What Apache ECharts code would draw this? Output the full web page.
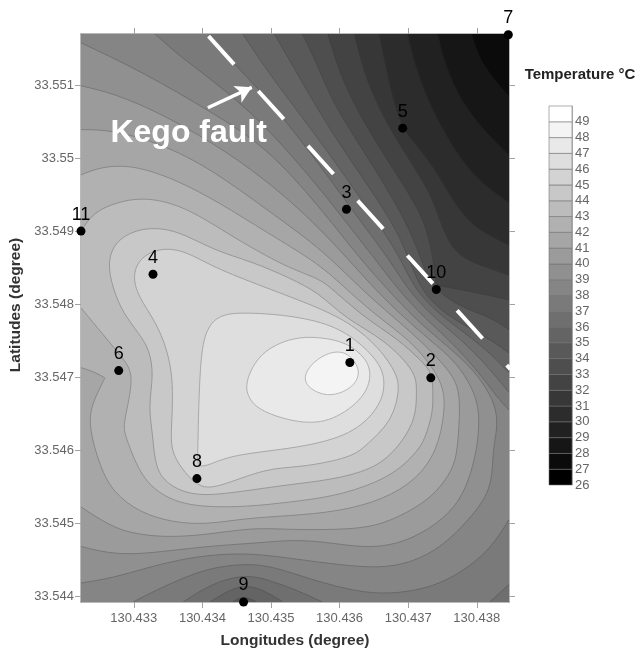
<!DOCTYPE html>
<html>
<head>
<meta charset="utf-8">
<style>html,body{margin:0;padding:0;background:#fff}#c{width:637px;height:653px}</style>
<script src="https://cdn.jsdelivr.net/npm/echarts@6/dist/echarts.min.js"></script>
</head>
<body>
<div id="c"></div>
<script>
// Site positions and contour positions are stored as offsets, in units of 0.00001 degree.
const lonBase = 130.43, latBase = 33.54, unit = 0.00001;
const lonMin = 223, lonMax = 847, latMin = 392, latMax = 1170;

const lonTicks = [130.433, 130.434, 130.435, 130.436, 130.437, 130.438];
const latTicks = [33.544, 33.545, 33.546, 33.547, 33.548, 33.549, 33.55, 33.551];
const scaleTicks = [26,27,28,29,30,31,32,33,34,35,36,37,38,39,40,41,42,43,44,45,46,47,48,49];

const siteNames = ['1','2','3','4','5','6','7','8','9','10','11'];
const siteLons = [615,733,610,328,692,278,846,392,460,741,223];
const siteLats = [720,699,930,841,1041,709,1169,561,392,820,900];

const faultLine = [[409,1167],[849,711]];
const faultArrow = [[408,1069],[472,1097]];
const faultLabel = [380,1034];

// Contour lines: flat lon,lat offset pairs, one array per isotherm piece.
const c28 = [792,1170,801,1141,819,1114,847,1084];
const c29 = [743,1170,750,1139,770,1089,804,1043,847,1004];
const c30 = [699,1170,709,1130,728,1080,756,1029,794,974,847,939];
const c31 = [658,1170,669,1117,687,1048,705,1025,736,991,770,933,800,902,847,881];
const c32 = [622,1170,634,1121,658,1066,692,1011,731,956,746,915,756,892,768,873,789,858,847,840];
const c33 = [583,1170,600,1117,625,1066,663,1007,698,956,724,915,736,867,741,826,741,826,794,817,847,806];
const c34 = [546,1170,571,1121,590,1076,634,1011,666,963,699,909,717,867,733,824,775,796,819,783,847,765];
const c35a = [505,1170,535,1121,571,1062,615,998,676,915,698,870,718,820,746,792,785,769,821,751,847,733];
const c35b = [479,392,459,401,444,392];
const c36a = [459,1170,498,1114,571,1025,653,915,687,867,709,820,746,785,797,751,829,724,847,706];
const c36b = [517,392,494,406,465,416,440,409,411,392];
const c37a = [411,1170,444,1130,494,1084,571,991,629,915,673,861,699,820,738,781,778,751,814,717,847,679];
const c37b = [847,416,819,392];
const c37c = [575,392,552,402,527,412,508,418,473,429,440,425,406,413,372,392];
const c38a = [331,1170,367,1139,473,1066,571,959,607,915,651,863,685,820,724,781,760,751,804,706,829,673,847,655];
const c38b = [847,505,823,468,789,440,746,416,698,405,648,403,600,412,552,425,527,433,479,446,415,440,372,425,334,409,299,392];
const c39 = [223,1158,313,1118,415,1062,494,1015,571,933,629,863,670,820,709,781,746,751,789,717,816,683,829,655,830,628,823,600,823,546,789,505,750,468,706,446,658,438,600,443,542,450,473,459,415,457,367,450,319,439,270,425,223,418];
const c40 = [223,1099,270,1089,338,1062,415,1021,488,974,571,906,651,820,695,781,731,751,772,720,801,673,804,637,800,600,789,559,770,522,731,491,683,470,634,466,575,475,527,477,484,473,430,470,367,464,305,457,261,459,223,468];
const c41 = [223,1039,265,1039,338,1021,415,984,494,929,571,878,632,820,680,781,717,751,760,710,775,683,775,646,772,600,765,573,741,542,712,521,663,498,615,491,527,491,473,494,406,484,342,480,284,488,251,505,223,522];
const c42 = [223,977,251,988,299,991,363,970,425,939,494,898,571,855,610,820,658,781,702,751,736,714,753,683,753,651,743,600,712,559,663,532,600,516,527,510,465,507,406,498,357,501,309,514,270,542,251,576,233,635,240,666,258,699,258,699,243,707,223,713];
const c43 = [223,900,240,925,275,940,319,947,377,933,444,892,523,850,571,835,590,820,637,781,687,751,717,724,736,706,736,673,736,651,724,614,714,600,692,577,654,555,590,536,527,529,465,522,382,522,338,539,309,566,287,621,284,635,302,703,284,726,243,772,223,795];
const c44 = [261,856,273,888,313,906,363,902,415,874,473,858,527,836,571,815,607,781,667,751,712,706,712,683,712,642,683,600,648,573,586,559,527,553,455,543,392,536,353,550,331,573,328,621,321,658,329,703,323,737,309,758,284,788,270,820];
const c45 = [297,837,309,865,342,878,377,872,415,851,488,824,571,795,619,772,658,740,685,703,687,680,676,639,639,607,619,590,542,576,494,576,421,548,392,548,357,590,353,617,360,703,338,768,309,806];
const c46 = [406,768,425,785,455,789,527,785,590,772,629,748,661,717,667,689,658,658,619,621,542,603,444,594,411,580,393,576,393,590,396,726];
const c47 = [462,694,484,735,532,755,571,755,610,748,639,726,647,703,637,672,590,639,542,636,484,653,466,672];
const c48 = [546,700,561,721,586,735,610,735,626,717,629,703,619,685,586,672,556,683];

// Outline of the area warmer than each isotherm: contour pieces joined along the frame.
const corners = {TL:[lonMin,latMax], TR:[lonMax,latMax], BR:[lonMax,latMin], BL:[lonMin,latMin]};
const levels = [
  {t:27, parts:['TL','TR','BR','BL'], base:true},
  {t:28, parts:[c28,'BR','BL','TL']},
  {t:29, parts:[c29,'BR','BL','TL']},
  {t:30, parts:[c30,'BR','BL','TL']},
  {t:31, parts:[c31,'BR','BL','TL']},
  {t:32, parts:[c32,'BR','BL','TL']},
  {t:33, parts:[c33,'BR','BL','TL']},
  {t:34, parts:[c34,'BR','BL','TL']},
  {t:35, parts:[c35a,'BR',c35b,'BL','TL']},
  {t:36, parts:[c36a,'BR',c36b,'BL','TL']},
  {t:37, parts:[c37a,c37b,c37c,'BL','TL']},
  {t:38, parts:[c38a,c38b,'BL','TL']},
  {t:39, parts:[c39]},
  {t:40, parts:[c40]},
  {t:41, parts:[c41]},
  {t:42, parts:[c42]},
  {t:43, parts:[c43]},
  {t:44, parts:[c44], loop:true},
  {t:45, parts:[c45], loop:true},
  {t:46, parts:[c46], loop:true},
  {t:47, parts:[c47], loop:true},
  {t:48, parts:[c48], loop:true}
];

const FONT = '"Liberation Sans", Arial, sans-serif';
function toLon(v){ return lonBase + v*unit; }
function toLat(v){ return latBase + v*unit; }
function grey(t){ const g = Math.round(255*(t-26)/23); return 'rgb('+g+','+g+','+g+')'; }
function lineGrey(t){ const g = Math.round(255*(t-26)/23*0.72+8); return 'rgb('+g+','+g+','+g+')'; }
function f(n){ return n.toFixed(2); }

// Drawing helper: a cubic B-spline through the read points gives the smooth isotherm look.
function spline(pts, loop){
  const n = pts.length;
  const at = function(i){
    if(loop) return pts[(i+n)%n];
    if(i<0) return [2*pts[0][0]-pts[1][0], 2*pts[0][1]-pts[1][1]];
    if(i>=n) return [2*pts[n-1][0]-pts[n-2][0], 2*pts[n-1][1]-pts[n-2][1]];
    return pts[i];
  };
  const knot = function(i){
    const a=at(i-1), b=at(i), c=at(i+1);
    return [(a[0]+4*b[0]+c[0])/6,(a[1]+4*b[1]+c[1])/6];
  };
  const s = knot(0); let d = '';
  const last = loop ? n : n-1;
  for(let i=0;i<last;i++){
    const b=at(i), c=at(i+1), e=knot(i+1);
    d += 'C'+f((2*b[0]+c[0])/3)+' '+f((2*b[1]+c[1])/3)+' '+f((b[0]+2*c[0])/3)+' '+f((b[1]+2*c[1])/3)+' '+f(e[0])+' '+f(e[1]);
  }
  return {head:f(s[0])+' '+f(s[1]), body:d};
}

function renderContour(params, api){
  const lv = levels[api.value(0)];
  const pxy = function(a,b){ return api.coord([toLon(a),toLat(b)]); };
  let fill = '', line = '', started = false;
  lv.parts.forEach(function(part){
    if(typeof part === 'string'){
      const c = pxy(corners[part][0],corners[part][1]);
      fill += (started?'L':'M')+f(c[0])+' '+f(c[1]); started = true;
    } else {
      const pts = [];
      for(let i=0;i<part.length;i+=2) pts.push(pxy(part[i],part[i+1]));
      const sp = spline(pts, !!lv.loop);
      fill += (started?'L':'M')+sp.head+sp.body; started = true;
      line += 'M'+sp.head+sp.body+(lv.loop?'Z':'');
    }
  });
  fill += 'Z';
  const kids = [{type:'path', shape:{pathData:fill}, style:{fill:grey(lv.t), stroke:null}}];
  if(line) kids.push({type:'path', shape:{pathData:line}, style:{fill:null, stroke:lineGrey(lv.t), lineWidth:1}});
  return {type:'group', children:kids};
}

function renderScale(params, api){
  const t = api.value(0);
  const a = api.coord([0,t+1]), b = api.coord([1,t]);
  return {type:'rect', shape:{x:a[0],y:a[1],width:b[0]-a[0],height:b[1]-a[1]},
    style:{fill:grey(Math.min(t,49)), stroke:'rgba(110,110,110,0.55)', lineWidth:1}};
}

const axisGrey = '#a2a2a2', labelGrey = '#666';
const trim = function(v){ return String(parseFloat(v.toFixed(3))); };

const option = {
  animation:false,
  backgroundColor:'#fff',
  textStyle:{fontFamily:FONT},
  grid:[
    {left:81, top:34, width:428, height:568, outerBoundsMode:'none'},
    {left:549, top:106, width:23, height:379, outerBoundsMode:'none'}
  ],
  xAxis:[
    {type:'value', gridIndex:0, min:toLon(lonMin), max:toLon(lonMax), position:'bottom',
     name:'Longitudes (degree)', nameLocation:'middle', nameGap:31,
     nameTextStyle:{fontFamily:FONT,fontSize:15.5,fontWeight:'bold',color:'#333'},
     splitLine:{show:false},
     axisLine:{onZero:false,lineStyle:{color:axisGrey,width:1.5}},
     axisTick:{customValues:lonTicks,length:6,lineStyle:{color:axisGrey}},
     axisLabel:{customValues:lonTicks,formatter:trim,fontFamily:FONT,fontSize:13,color:labelGrey,margin:10}},
    {type:'value', gridIndex:0, min:toLon(lonMin), max:toLon(lonMax), position:'top',
     splitLine:{show:false},
     axisLine:{onZero:false,lineStyle:{color:axisGrey,width:1.5}},
     axisTick:{customValues:lonTicks,length:6,lineStyle:{color:axisGrey}},
     axisLabel:{show:false}},
    {type:'value', gridIndex:1, min:0, max:1, show:false}
  ],
  yAxis:[
    {type:'value', gridIndex:0, min:toLat(latMin), max:toLat(latMax), position:'left',
     name:'Latitudes (degree)', nameLocation:'middle', nameGap:55, nameRotate:90,
     nameTextStyle:{fontFamily:FONT,fontSize:15.5,fontWeight:'bold',color:'#333',padding:[0,0,0,26]},
     splitLine:{show:false},
     axisLine:{onZero:false,lineStyle:{color:axisGrey,width:1.5}},
     axisTick:{customValues:latTicks,length:6,lineStyle:{color:axisGrey}},
     axisLabel:{customValues:latTicks,formatter:trim,fontFamily:FONT,fontSize:13,color:labelGrey,margin:7}},
    {type:'value', gridIndex:0, min:toLat(latMin), max:toLat(latMax), position:'right',
     splitLine:{show:false},
     axisLine:{onZero:false,lineStyle:{color:axisGrey,width:1.5}},
     axisTick:{customValues:latTicks,length:6,lineStyle:{color:axisGrey}},
     axisLabel:{show:false}},
    {type:'value', gridIndex:1, min:26, max:50, position:'right',
     name:'Temperature °C', nameLocation:'end', nameGap:24,
     nameTextStyle:{fontFamily:FONT,fontSize:15,fontWeight:'bold',color:'#222',align:'center',padding:[0,0,0,16]},
     splitLine:{show:false},
     axisLine:{onZero:false,lineStyle:{color:'#bbb',width:1}},
     axisTick:{show:false},
     axisLabel:{customValues:scaleTicks,fontFamily:FONT,fontSize:13,color:labelGrey,margin:3}}
  ],
  series:[
    {type:'custom', name:'Temperature', xAxisIndex:0, yAxisIndex:0, clip:true, z:1, silent:true,
     data:levels.map(function(l,i){return [i];}), encode:{x:[],y:[]}, renderItem:renderContour},
    {type:'custom', name:'Scale', xAxisIndex:2, yAxisIndex:2, z:1, silent:true,
     data:scaleTicks.map(function(t){return [t];}), encode:{x:[],y:[]}, renderItem:renderScale},
    {type:'line', name:'Kego fault', xAxisIndex:0, yAxisIndex:0, z:3, silent:true, symbol:'none', clip:true,
     data:faultLine.map(function(p){return [toLon(p[0]),toLat(p[1])];}),
     lineStyle:{color:'#fff',width:4,type:[38,36]}},
    {type:'line', name:'Arrow', xAxisIndex:0, yAxisIndex:0, z:3, silent:true,
     symbol:'none', showSymbol:false,
     data:faultArrow.map(function(p){return [toLon(p[0]),toLat(p[1])];}),
     lineStyle:{color:'#fff',width:3.5},
     markPoint:{silent:true, symbol:'arrow', symbolSize:[14,16], symbolRotate:-64,
       itemStyle:{color:'#fff'},label:{show:false},
       data:[{coord:[toLon(faultArrow[1][0]),toLat(faultArrow[1][1])]}]}},
    {type:'scatter', name:'Fault label', xAxisIndex:0, yAxisIndex:0, z:4, silent:true,
     symbolSize:0, data:[[toLon(faultLabel[0]),toLat(faultLabel[1])]],
     label:{show:true,position:'inside',formatter:'Kego fault',fontFamily:FONT,fontWeight:'bold',fontSize:32,color:'#fff',opacity:1}},
    {type:'scatter', name:'Sites', xAxisIndex:0, yAxisIndex:0, z:5, silent:true, clip:false,
     symbolSize:9, itemStyle:{color:'#000',opacity:1},
     data:siteNames.map(function(n,i){return {name:n,value:[toLon(siteLons[i]),toLat(siteLats[i])]};}),
     label:{show:true,position:'top',distance:3,formatter:'{b}',fontFamily:FONT,fontSize:18,color:'#000'}}
  ]
};
const chart = echarts.init(document.getElementById('c'),null,{renderer:'canvas'});
chart.setOption(option);
</script>
</body>
</html>
